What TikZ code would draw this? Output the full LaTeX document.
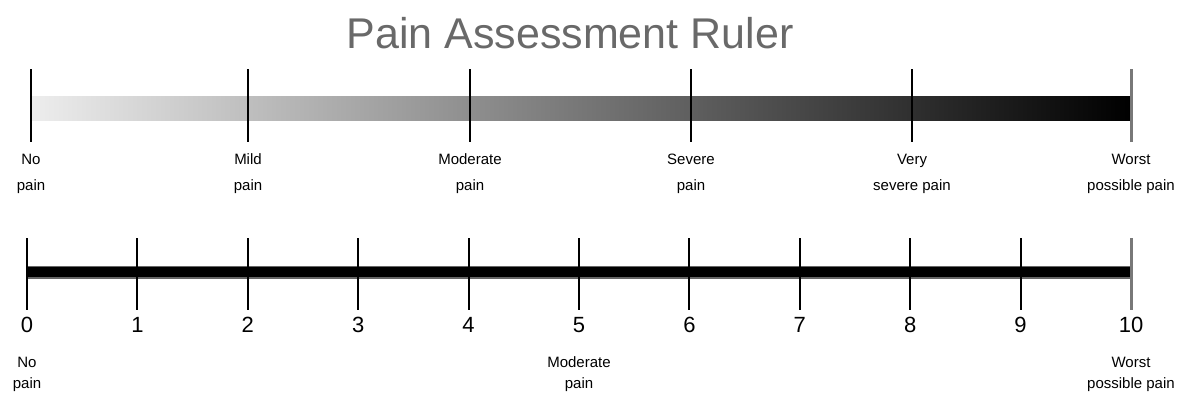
\documentclass[tikz,border=0pt]{standalone}
\usepackage{fontspec}
\setmainfont{Liberation Sans}
\usetikzlibrary{positioning,calc}
\definecolor{TitleGrey}{RGB}{105,105,105}
\definecolor{EndGrey}{RGB}{120,120,120}
\newcommand{\lt}{\rule{0pt}{12pt}}

\begin{document}
\begin{tikzpicture}[x=1pt,y=-1pt]
	\tikzset{
		t/.style={draw=black, line width=2pt},
		te/.style={draw=EndGrey, line width=3pt},
		l/.style={font=\fontsize{15}{26}\selectfont, align=center, inner sep=0pt, anchor=north},
		lb/.style={l, font=\fontsize{15}{21}\selectfont},
		n/.style={font=\fontsize{22}{22}\selectfont, inner sep=0pt}
	}
	\useasboundingbox (0,0) rectangle (1181,394);
	\node[font=\fontsize{43}{43}\selectfont, text=TitleGrey, anchor=base, inner sep=0pt] (title) at (570,48) {Pain Assessment Ruler};
	
	% upper ruler
	\shade[left color=black!7, middle color=black!65, right color=black] (32,96) rectangle (1131,120);
	\foreach \i/\x in {0/31,1/248,2/470,3/691,4/912} {
		\coordinate (a\i) at (\x,69);
		\coordinate (b\i) at (\x,142);
		\draw[t] (a\i) -- (b\i);
	}
	\coordinate (a5) at (1131,69);
	\coordinate (b5) at (1131,142);
	\draw[te] (a5) -- (b5);
	
	\node[l] (w0) at (31,152) {\lt No\\pain};
	\node[l] (w1) at (248,152) {\lt Mild\\pain};
	\node[l] (w2) at (470,152) {\lt Moderate\\pain};
	\node[l] (w3) at (691,152) {\lt Severe\\pain};
	\node[l] (w4) at (912,152) {\lt Very\\severe pain};
	\node[l] (w5) at (1131,152) {\lt Worst\\possible pain};
	
	% lower ruler
	\coordinate (s) at (27,272);
	\coordinate (e) at (1131,272);
	\draw[line width=13pt, black!60] (s) -- (e);
	\draw[line width=10pt, black] (s) -- (e);
	\foreach \i in {0,...,9} {
		\pgfmathsetmacro\x{27+110.4*\i}
		\coordinate (p\i) at (\x,238);
		\coordinate (q\i) at (\x,310);
		\draw[t] (p\i) -- (q\i);
		\node[n] (num\i) at (\x,325) {\i};
	}
	\coordinate (p10) at (1131,238);
	\coordinate (q10) at (1131,310);
	\draw[te] (p10) -- (q10);
	\node[n] (num10) at (1131,325) {10};
	
	\node[lb] (v0) at (27,355) {\lt No\\pain};
	\node[lb] (v5) at (579,355) {\lt Moderate\\pain};
	\node[lb] (v10) at (1131,355) {\lt Worst\\possible pain};
\end{tikzpicture}
\end{document}
